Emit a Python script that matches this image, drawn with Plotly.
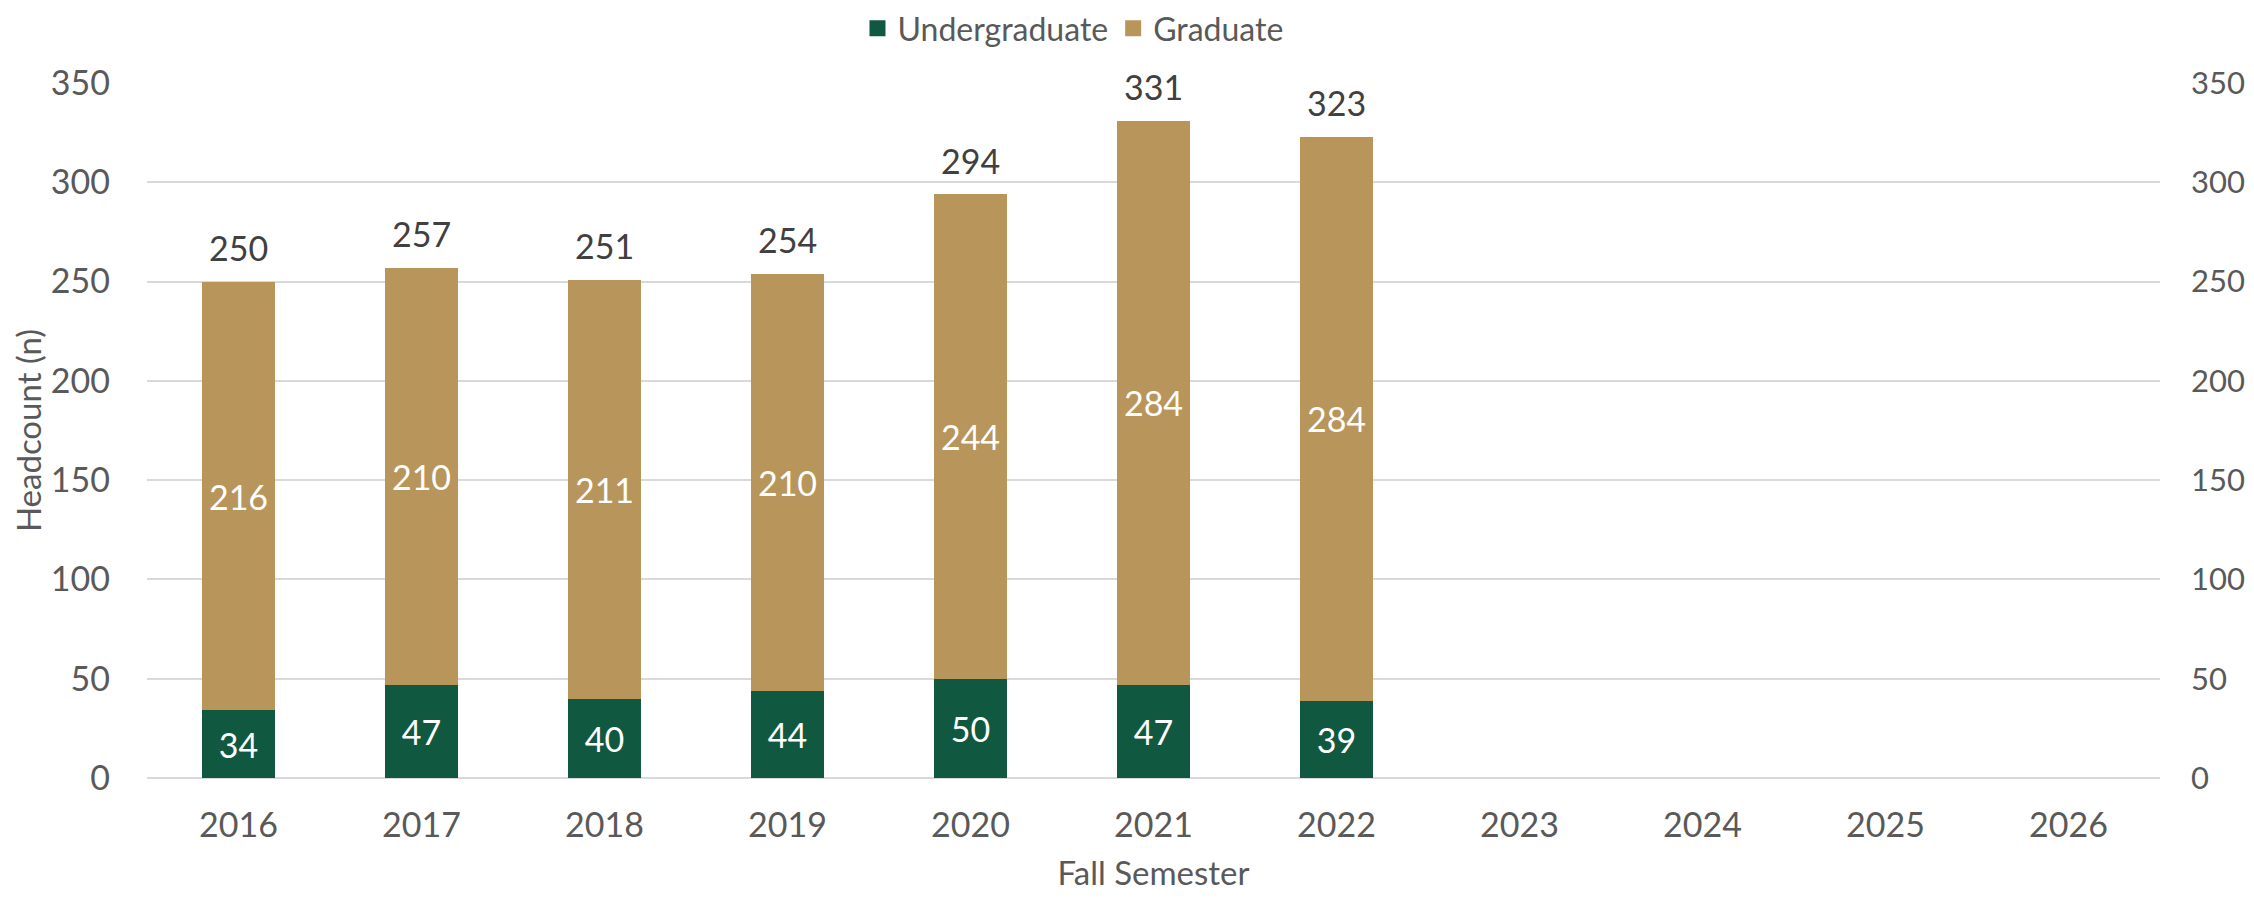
import plotly.graph_objects as go

years = ["2016", "2017", "2018", "2019", "2020", "2021", "2022", "2023", "2024", "2025", "2026"]
undergraduate = [34, 47, 40, 44, 50, 47, 39, None, None, None, None]
graduate = [216, 210, 211, 210, 244, 284, 284, None, None, None, None]
totals = [250, 257, 251, 254, 294, 331, 323, None, None, None, None]

GREEN = "#115840"
GOLD = "#B8955A"
TICK = "#595959"
FONT = "Lato, 'Open Sans', sans-serif"
FS = 34

fig = go.Figure()
fig.add_trace(go.Bar(
    x=years, y=undergraduate, name="Undergraduate",
    marker=dict(color=GREEN, line=dict(width=0)),
    text=[str(v) if v is not None else "" for v in undergraduate],
    textposition="inside", insidetextanchor="middle",
    textfont=dict(color="white", size=FS, family=FONT),
    constraintext="none", width=0.4, showlegend=False,
))
fig.add_trace(go.Bar(
    x=years, y=graduate, name="Graduate",
    marker=dict(color=GOLD, line=dict(width=0)),
    text=[str(v) if v is not None else "" for v in graduate],
    textposition="inside", insidetextanchor="middle",
    textfont=dict(color="white", size=FS, family=FONT),
    constraintext="none", width=0.4, showlegend=False,
))
# legend entries with larger square swatches
for name, col in [("Undergraduate", GREEN), ("Graduate", GOLD)]:
    fig.add_trace(go.Scatter(
        x=[years[0]], y=[None], mode="markers", name=name,
        marker=dict(symbol="square", size=18, color=col),
        hoverinfo="skip",
    ))

# invisible trace to make the right axis render
fig.add_trace(go.Scatter(x=years, y=totals, mode="none", yaxis="y2",
                         showlegend=False, hoverinfo="skip"))

# total labels above each stack (x given as category index)
for i, tot in enumerate(totals):
    if tot is not None:
        fig.add_annotation(
            x=i, y=tot, xref="x", yref="y", text=str(tot), showarrow=False,
            yanchor="middle", yshift=34,
            font=dict(color="#404040", size=FS, family=FONT),
        )

fig.update_layout(
    barmode="stack",
    width=2238, height=884,
    paper_bgcolor="white", plot_bgcolor="white",
    margin=dict(l=139, r=86, t=75, b=114, autoexpand=False),
    font=dict(family=FONT, color=TICK, size=FS),
    showlegend=True,
    legend=dict(orientation="h", x=0.46, xanchor="center", y=0.977, yanchor="middle",
                yref="container", font=dict(size=32, color=TICK),
                traceorder="normal", bgcolor="rgba(0,0,0,0)"),
    xaxis=dict(
        type="category", categoryorder="array", categoryarray=years,
        range=[-0.5, len(years) - 0.5],
        showgrid=False, showline=False, ticks="", ticklabelstandoff=24,
        tickfont=dict(size=FS, color=TICK),
        title=dict(text="Fall Semester", font=dict(size=33, color=TICK), standoff=25),
    ),
    yaxis=dict(
        range=[0, 350], dtick=50, showgrid=True, gridcolor="#D9D9D9", gridwidth=2,
        zeroline=True, zerolinecolor="#D9D9D9", zerolinewidth=2,
        showline=False, ticks="", ticklabelstandoff=36,
        tickfont=dict(size=FS, color=TICK),
        title=dict(text="Headcount (n)", font=dict(size=33, color=TICK), standoff=12),
    ),
    yaxis2=dict(
        range=[0, 350], dtick=50, overlaying="y", side="right",
        showgrid=False, zeroline=False, showline=False, ticks="",
        ticklabelstandoff=30, tickfont=dict(size=31, color=TICK),
    ),
    bargap=0.6,
)

fig.write_html("out.html")
